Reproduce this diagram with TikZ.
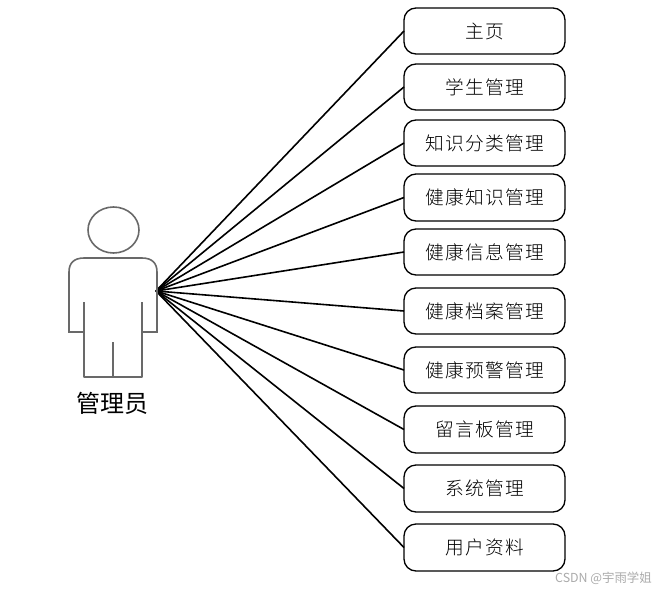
\documentclass[tikz,border=0pt]{standalone}
\usepackage{fontspec}
\setmainfont{Noto Sans CJK SC}
\newfontfamily\boxfont[LetterSpace=7]{Noto Sans CJK SC Light}
\tikzset{
  menubox/.style={draw=black,line width=1.3pt,rounded corners=12pt,minimum width=161pt,text=black,font=\boxfont\fontsize{18.7}{20}\selectfont,inner sep=0pt,outer sep=0pt},
  link/.style={draw=black,line width=1.6pt},
  figure/.style={draw={rgb,255:red,105;green,105;blue,105},line width=1.6pt}
}
\begin{document}
\begin{tikzpicture}[x={(1pt,0pt)},y={(0pt,-1pt)}]
\useasboundingbox (0,0) rectangle (659,592);
\coordinate (hub) at (156,291);
\node[menubox,minimum height=46pt] (home) at (484.5,31) {主页};
\node[menubox,minimum height=46pt] (student) at (484.5,87) {学生管理};
\node[menubox,minimum height=46pt] (category) at (484.5,143) {知识分类管理};
\node[menubox,minimum height=47pt] (knowledge) at (484.5,197.5) {健康知识管理};
\node[menubox,minimum height=46pt] (info) at (484.5,252) {健康信息管理};
\node[menubox,minimum height=46pt] (record) at (484.5,311) {健康档案管理};
\node[menubox,minimum height=46pt] (warning) at (484.5,370) {健康预警管理};
\node[menubox,minimum height=47pt] (board) at (484.5,429.5) {留言板管理};
\node[menubox,minimum height=47pt] (system) at (484.5,488.5) {系统管理};
\node[menubox,minimum height=47pt] (profile) at (484.5,547.5) {用户资料};
\draw[link] (hub) -- (home.west);
\draw[link] (hub) -- (student.west);
\draw[link] (hub) -- (category.west);
\draw[link] (hub) -- (knowledge.west);
\draw[link] (hub) -- (info.west);
\draw[link] (hub) -- (record.west);
\draw[link] (hub) -- (warning.west);
\draw[link] (hub) -- (board.west);
\draw[link] (hub) -- (system.west);
\draw[link] (hub) -- (profile.west);
\draw[figure] (113.5,230) ellipse (25.5pt and 23pt);
\draw[figure] (84,332) -- (69,332) -- (69,272) .. controls (69,263) and (74,258) .. (84,258) -- (142,258) .. controls (152,258) and (157,263) .. (157,272) -- (157,332) -- (142,332);
\draw[figure,line join=round] (84,302) -- (84,377) -- (142,377) -- (142,302);
\draw[figure] (113,342) -- (113,377);
\node[font=\fontsize{24}{26}\selectfont,inner sep=0pt] (admin) at (112,403) {管理员};
\node[font=\fontsize{12.4}{14}\selectfont,text={rgb,255:red,170;green,170;blue,170},inner sep=0pt] (mark) at (603.5,578) {CSDN @宇雨学姐};
\end{tikzpicture}
\end{document}
